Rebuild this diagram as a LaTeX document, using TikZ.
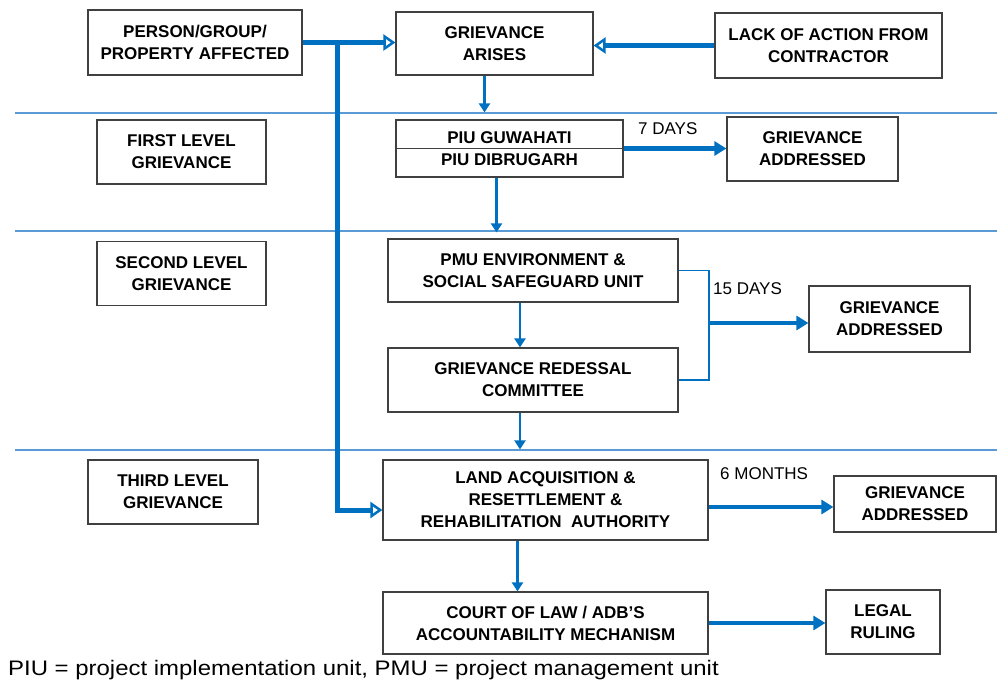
\documentclass[tikz,border=0pt]{standalone}
\usepackage{fontspec}
\setmainfont{Liberation Sans}
\newfontfamily\notefont[FakeStretch=1.14]{Liberation Sans}
\usepackage{xcolor}
\usetikzlibrary{arrows.meta}
\definecolor{flowblue}{RGB}{0,112,192}
\definecolor{lineblue}{RGB}{91,155,213}

\begin{document}
\begin{tikzpicture}[x=1pt,y=-1pt]
    \tikzstyle{box}=[draw=black!75,line width=1.2pt,fill=white,align=center,inner sep=0pt,font=\bfseries\fontsize{17}{22}\selectfont]
    \tikzstyle{tierbox}=[box,minimum width=169pt,minimum height=64pt]
    \tikzstyle{outcome}=[box,minimum height=64pt]
    \tikzstyle{days}=[font=\fontsize{17}{20}\selectfont,anchor=west,inner sep=0pt]
    \tikzstyle{flow}=[draw=flowblue,line width=4.5pt,-{Triangle[length=12pt,width=14pt]}]
    \tikzstyle{mainflow}=[draw=flowblue,line width=5pt,-{Triangle[open,length=12pt,width=16pt,line width=2.5pt]}]
    \tikzstyle{drop}=[draw=flowblue,line width=2.5pt,-{Triangle[length=9pt,width=11pt]}]
    \tikzstyle{bracket}=[draw=flowblue,line width=1.3pt]
    \tikzstyle{tier}=[draw=lineblue,line width=1.8pt]

    \useasboundingbox (0,0) rectangle (997,683);

    \draw[tier] (15,113) -- (997,113);
    \draw[tier] (15,231) -- (997,231);
    \draw[tier] (15,450) -- (997,450);

    \node[box,minimum width=214pt,minimum height=65pt](person) at (195,42.5){PERSON/GROUP/\\PROPERTY AFFECTED};
    \node[box,minimum width=197pt,minimum height=63pt](arises) at (494.5,43.5){GRIEVANCE\\ARISES};
    \node[box,minimum width=227pt,minimum height=65pt](lack) at (828.5,45.5){LACK OF ACTION FROM\\CONTRACTOR};

    \node[tierbox](first) at (181.5,152){FIRST LEVEL\\GRIEVANCE};
    \node[box,minimum width=227pt,minimum height=57pt](piu) at (509.5,148.5){PIU GUWAHATI\\PIU DIBRUGARH};
    \draw[draw=black!75,line width=1.2pt] (piu.west) -- (piu.east);
    \node[outcome,minimum width=171pt](addr1) at (812.5,149){GRIEVANCE\\ADDRESSED};
    \node[days](d7) at (638,129){7 DAYS};

    \node[tierbox](second) at (181.5,273.5){SECOND LEVEL\\GRIEVANCE};
    \node[box,minimum width=290pt,minimum height=63pt](pmu) at (533,270.5){PMU ENVIRONMENT \&\\SOCIAL SAFEGUARD UNIT};
    \node[box,minimum width=290pt,minimum height=64pt](grc) at (533,380){GRIEVANCE REDESSAL\\COMMITTEE};
    \node[outcome,minimum width=161pt,minimum height=66pt](addr2) at (889.5,319){GRIEVANCE\\ADDRESSED};
    \node[days](d15) at (713,289){15 DAYS};
    \coordinate (join) at (709,323);

    \node[tierbox,minimum width=170pt](third) at (173,492){THIRD LEVEL\\GRIEVANCE};
    \node[box,minimum width=325pt,minimum height=80pt](larra) at (545.5,500){LAND ACQUISITION \&\\RESETTLEMENT \&\\REHABILITATION\ \ AUTHORITY};
    \node[outcome,minimum width=162pt,minimum height=56pt](addr3) at (915,504){GRIEVANCE\\ADDRESSED};
    \node[days](m6) at (720,474){6 MONTHS};

    \node[box,minimum width=325pt,minimum height=62pt](court) at (545.5,623){COURT OF LAW / ADB'S\\ACCOUNTABILITY MECHANISM};
    \node[outcome,minimum width=114pt](legal) at (883,622){LEGAL\\RULING};

    \node[anchor=south west,inner sep=0pt,font=\notefont\fontsize{21}{24}\selectfont](note) at (8,680){PIU = project implementation unit, PMU = project management unit};

    \coordinate (fork) at (337,42.5);
    \draw[mainflow] (person.east) -- (person.east -| arises.west);
    \draw[mainflow] (fork) |- ([yshift=-10pt]larra.west);
    \draw[mainflow] (lack.west) -- (lack.west -| arises.east);

    \draw[drop,shorten >=7pt] ([xshift=-10pt]arises.south) -- ([xshift=-10pt]arises.south |- piu.north);
    \draw[drop,shorten >=6pt] ([xshift=-13pt]piu.south) -- ([xshift=-13pt]piu.south |- pmu.north);
    \draw[drop] ([xshift=-13pt]pmu.south) -- ([xshift=-13pt]grc.north);
    \draw[drop,shorten >=10pt] ([xshift=-13pt]grc.south) -- ([xshift=-13pt]grc.south |- larra.north);
    \draw[drop] ([xshift=-28pt]larra.south) -- ([xshift=-28pt]larra.south |- court.north);

    \draw[flow] (piu.east) -- (piu.east -| addr1.west);
    \draw[bracket] (pmu.east) -| (join) |- (grc.east);
    \draw[flow] (join) -- (join -| addr2.west);
    \draw[flow] ([yshift=-7pt]larra.east) -- ([yshift=-7pt]larra.east -| addr3.west);
    \draw[flow] (court.east) -- (court.east -| legal.west);

\end{tikzpicture}
\end{document}
